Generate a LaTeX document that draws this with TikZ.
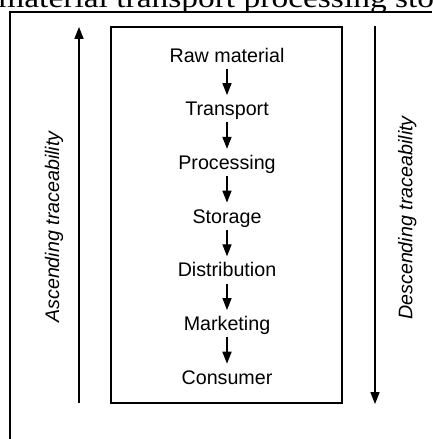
\documentclass[tikz,border=0pt]{standalone}
\usepackage{fontspec}
\usepackage{graphicx}
\setmainfont{Liberation Sans}
\newfontfamily\capfont{Liberation Serif}
\usetikzlibrary{arrows.meta}

\tikzset{
  stage/.style={font=\fontsize{14}{16}\selectfont, text height=10pt, text depth=0pt,
    inner xsep=0pt, inner ysep=4.5pt},
  flow/.style={line width=0.8pt, -{Triangle[length=8.5pt,width=6.5pt]}},
  sidelabel/.style={font=\fontsize{14}{16}\selectfont\itshape, inner sep=0pt}
}

\begin{document}
\begin{tikzpicture}[scale=1.0]
  \useasboundingbox (0,0) rectangle (10.8,-10.975);
  % caption line running above the frame
  \node[anchor=base west, inner sep=0pt, xscale=1.19, transform shape,
    font=\capfont\fontsize{20}{22}\selectfont]
    (cap) at (-0.05,-0.18) {material transport processing sto};
  % outer frame
  \draw[line width=1pt] (0.25,-10.975) -- (0.25,-0.3) -- (10.8,-0.3);
  % chain box
  \draw[line width=1pt] (2.775,-0.675) rectangle (8.55,-10.075);
  \foreach \name [count=\i] in {Raw material,Transport,Processing,Storage,Distribution,Marketing,Consumer}
    \node[stage] (s\i) at (5.675,{-1.375-1.343*(\i-1)}) {\name};
  \foreach \i [evaluate=\i as \j using int(\i+1)] in {1,...,6}
    \draw[flow] (s\i) -- (s\j);
  % traceability directions
  \coordinate (upA) at (1.975,-10.075);
  \coordinate (upB) at (1.975,-0.675);
  \coordinate (dnA) at (9.375,-0.65);
  \coordinate (dnB) at (9.375,-10.1);
  \draw[flow] (upA) -- (upB);
  \draw[flow] (dnA) -- (dnB);
  \node[sidelabel] (asc) at (1.35,-5.675) {\rotatebox{90}{Ascending traceability}};
  \node[sidelabel] (desc) at (10.18,-5.45) {\rotatebox{90}{Descending traceability}};
\end{tikzpicture}
\end{document}
